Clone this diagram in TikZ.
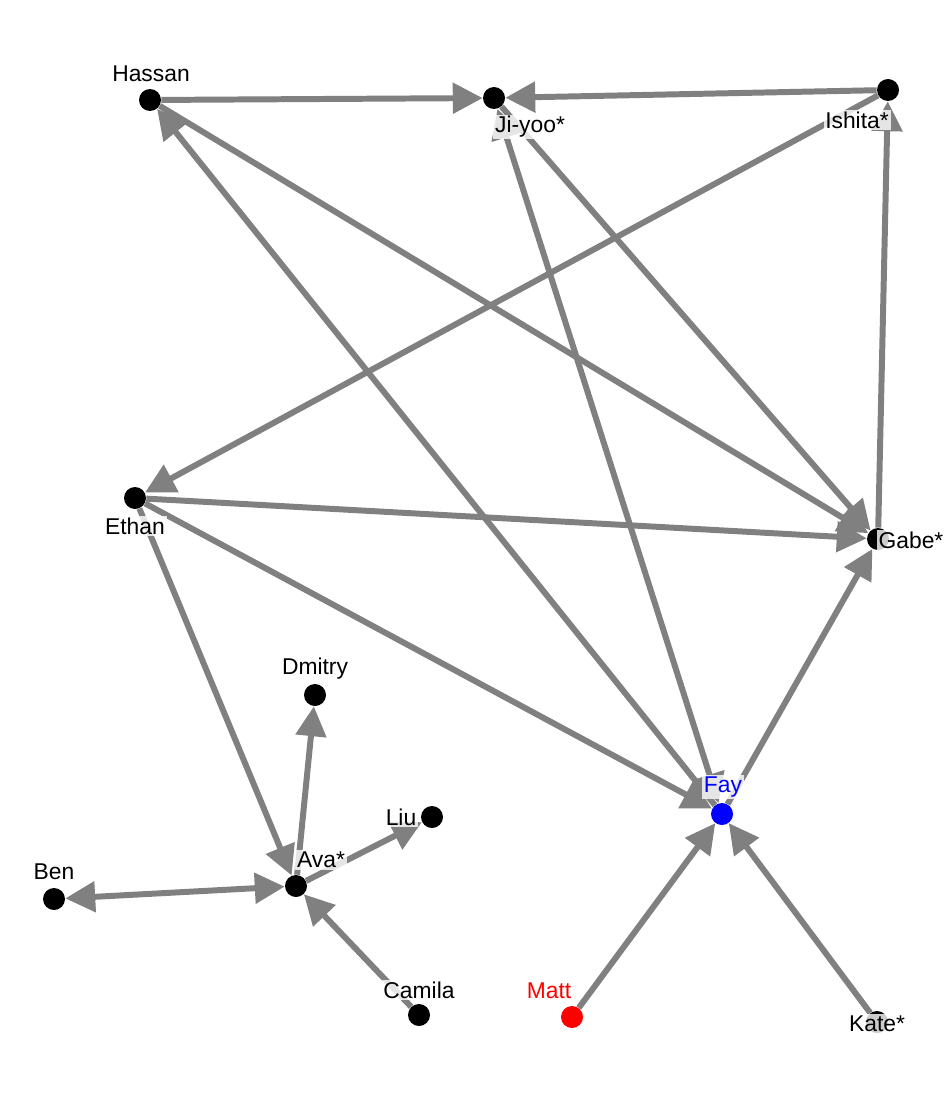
\documentclass[tikz,border=0pt]{standalone}
\usepackage{fontspec}
\setmainfont{Liberation Sans}
\usetikzlibrary{arrows.meta}
\begin{document}
\begin{tikzpicture}[x=0.02cm,y=-0.02cm,
  vtx/.style={circle,fill=black,minimum size=22*0.02cm,inner sep=0pt},
  lbl/.style={fill=white,fill opacity=0.8,text opacity=1,inner sep=1pt,font=\fontsize{13}{15}\selectfont},
  edge/.style={draw=gray,line width=3.4pt,-{Triangle[length=17pt,width=17pt]}},
  bedge/.style={draw=gray,line width=3.4pt,{Triangle[length=17pt,width=17pt]}-{Triangle[length=17pt,width=17pt]}}]
\useasboundingbox (0,0) rectangle (950,1095);
\node[vtx] (hassan) at (150,100) {};
\node[vtx] (jiyoo) at (494,98) {};
\node[vtx] (ishita) at (888,90) {};
\node[vtx] (ethan) at (135,498) {};
\node[vtx] (gabe) at (878,539) {};
\node[vtx] (dmitry) at (315,695) {};
\node[vtx] (liu) at (432,817) {};
\node[vtx] (ava) at (296,886) {};
\node[vtx] (ben) at (54,899) {};
\node[vtx] (camila) at (419,1015) {};
\node[vtx,fill=red] (matt) at (572,1017) {};
\node[vtx,fill=blue] (fay) at (722,814) {};
\node[vtx] (kate) at (877,1022) {};
\draw[edge] (hassan) -- (jiyoo);
\draw[edge] (ishita) -- (jiyoo);
\draw[edge] (ishita) -- (ethan);
\draw[edge] (gabe) -- (ishita);
\draw[edge] (hassan) -- (gabe);
\draw[edge] (jiyoo) -- (gabe);
\draw[bedge] (fay) -- (jiyoo);
\draw[edge] (ethan) -- (gabe);
\draw[edge] (ethan) -- (fay);
\draw[edge] (ethan) -- (ava);
\draw[edge] (fay) -- (gabe);
\draw[edge] (fay) -- (hassan);
\draw[edge] (ava) -- (dmitry);
\draw[edge] (ava) -- (liu);
\draw[bedge] (ava) -- (ben);
\draw[edge] (camila) -- (ava);
\draw[edge] (matt) -- (fay);
\draw[edge] (kate) -- (fay);
\node[lbl] (lhassan) at (151,74) {Hassan};
\node[lbl] (ljiyoo) at (530,127) {Ji-yoo*};
\node[lbl] (lishita) at (857,120) {Ishita*};
\node[lbl] (lethan) at (135,526) {Ethan};
\node[lbl] (lgabe) at (911,540) {Gabe*};
\node[lbl] (ldmitry) at (315,669) {Dmitry};
\node[lbl] (lliu) at (401,817) {Liu};
\node[lbl] (lava) at (321,860) {Ava*};
\node[lbl] (lben) at (54,872) {Ben};
\node[lbl] (lcamila) at (419,990) {Camila};
\node[lbl,text=red] (lmatt) at (549,991) {Matt};
\node[lbl,text=blue] (lfay) at (723,787) {Fay};
\node[lbl] (lkate) at (877,1024) {Kate*};
\end{tikzpicture}
\end{document}
